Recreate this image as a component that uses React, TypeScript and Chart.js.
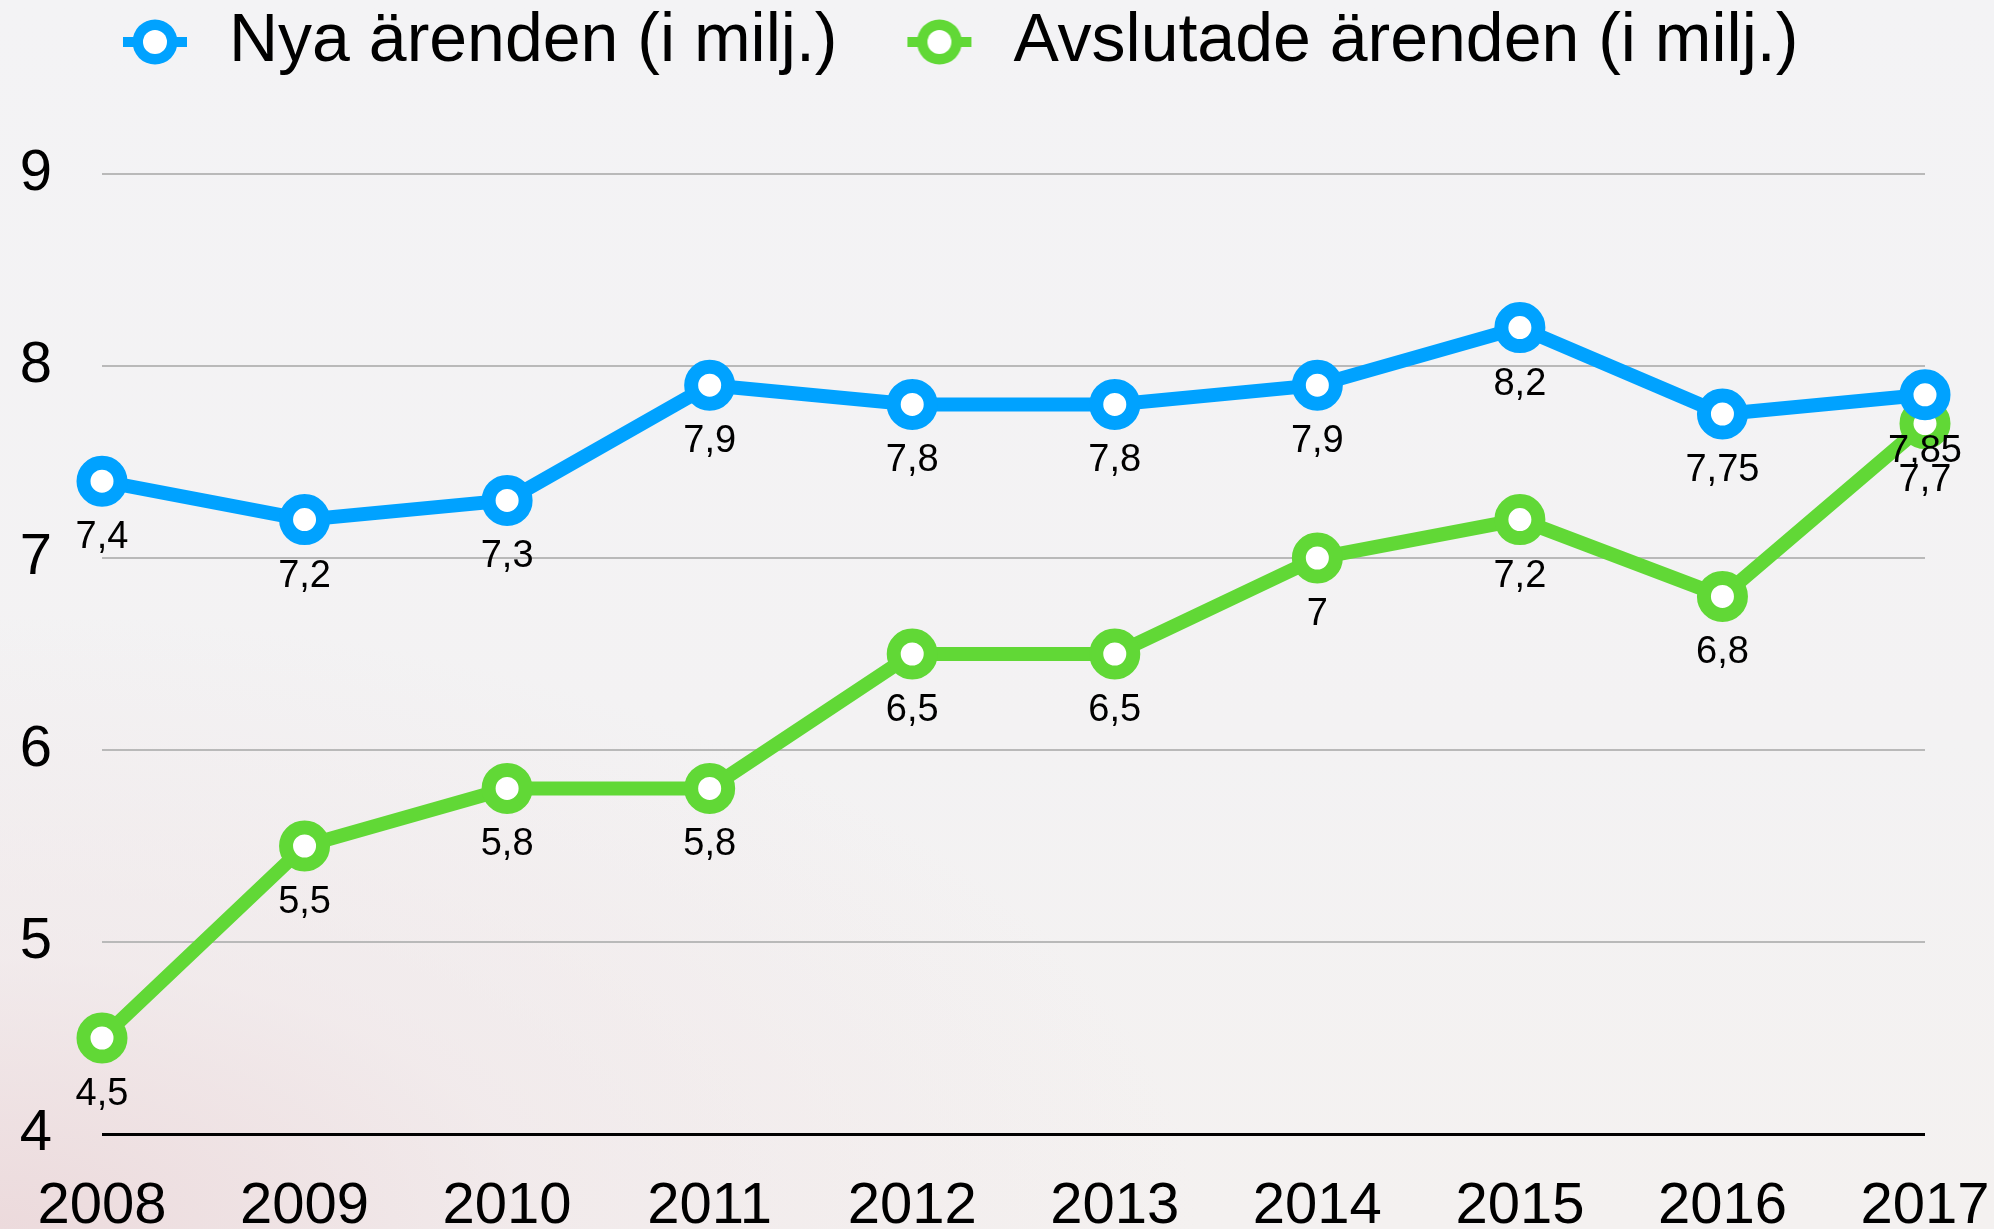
import React, { useEffect, useRef } from 'react';
import { Chart, registerables } from 'chart.js';

Chart.register(...registerables);

const years = ['2008', '2009', '2010', '2011', '2012', '2013', '2014', '2015', '2016', '2017'];
const nyaArenden = [7.4, 7.2, 7.3, 7.9, 7.8, 7.8, 7.9, 8.2, 7.75, 7.85];
const avslutadeArenden = [4.5, 5.5, 5.8, 5.8, 6.5, 6.5, 7.0, 7.2, 6.8, 7.7];
const seriesNames = ['Nya ärenden (i milj.)', 'Avslutade ärenden (i milj.)'];
const seriesColors = ['#00A2FF', '#61D836'];
const yTickValues = [4, 5, 6, 7, 8, 9];

const FONT = '"Liberation Sans", Arial, Helvetica, sans-serif';

function makeMarker(color: string): HTMLCanvasElement {
  const c = document.createElement('canvas');
  c.width = 120;
  c.height = 50;
  const g = c.getContext('2d')!;
  const cx = 87;
  const cy = 25;
  g.fillStyle = color;
  g.fillRect(cx - 32, cy - 5, 64, 10);
  g.beginPath();
  g.arc(cx, cy, 22.5, 0, Math.PI * 2);
  g.fill();
  g.fillStyle = '#ffffff';
  g.beginPath();
  g.arc(cx, cy, 12, 0, Math.PI * 2);
  g.fill();
  return c;
}

const legendLayoutPlugin = {
  id: 'legendLayout',
  beforeLayout(chart: any) {
    const lg = chart.legend;
    if (lg && !lg._patchedFit) {
      const orig = lg.fit;
      lg.fit = function () {
        orig.call(this);
        this.height = 174;
      };
      lg._patchedFit = true;
    }
  },
  afterLayout(chart: any) {
    const lg = chart.legend;
    if (lg) {
      lg.left += 53;
      lg.right += 53;
    }
  },
};

const valueLabelPlugin = {
  id: 'valueLabels',
  afterDatasetsDraw(chart: any) {
    const ctx = chart.ctx;
    ctx.save();
    ctx.font = `38px ${FONT}`;
    ctx.fillStyle = '#000';
    ctx.textAlign = 'center';
    ctx.textBaseline = 'alphabetic';
    for (let d = chart.data.datasets.length - 1; d >= 0; d--) {
      const meta = chart.getDatasetMeta(d);
      const values = chart.data.datasets[d].data as number[];
      meta.data.forEach((pt: any, i: number) => {
        const txt = String(values[i]).replace('.', ',');
        ctx.fillText(txt, pt.x, pt.y + 67);
      });
    }
    ctx.restore();
  },
};

export default function App() {
  const ref = useRef<HTMLCanvasElement | null>(null);

  useEffect(() => {
    if (!ref.current) return;
    const markers = seriesColors.map(makeMarker);
    const mkDataset = (label: string, data: number[], color: string) => ({
      label,
      data,
      borderColor: color,
      backgroundColor: '#ffffff',
      pointBackgroundColor: '#ffffff',
      pointBorderColor: color,
      borderWidth: 14,
      pointRadius: 18.5,
      pointBorderWidth: 14,
      pointHoverRadius: 18.5,
      tension: 0,
      clip: false as any,
    });
    const chart = new Chart(ref.current, {
      type: 'line',
      data: {
        labels: years,
        datasets: [
          mkDataset(seriesNames[0], nyaArenden, seriesColors[0]),
          mkDataset(seriesNames[1], avslutadeArenden, seriesColors[1]),
        ],
      },
      options: {
        animation: false,
        responsive: true,
        maintainAspectRatio: false,
        events: [],
        layout: { padding: { left: 0, right: 69, top: 0, bottom: 0 } },
        plugins: {
          tooltip: { enabled: false },
          legend: {
            display: true,
            position: 'top',
            align: 'start',
            labels: {
              usePointStyle: true,
              pointStyleWidth: 134,
              padding: 8,
              color: '#000',
              font: { size: 68, family: FONT },
              generateLabels: (ch: any) =>
                ch.data.datasets.map((ds: any, i: number) => ({
                  text: ds.label,
                  pointStyle: markers[i],
                  fillStyle: seriesColors[i],
                  strokeStyle: seriesColors[i],
                  lineWidth: 0,
                  hidden: false,
                  datasetIndex: i,
                  fontColor: '#000',
                })),
            },
          },
        },
        scales: {
          x: {
            type: 'category',
            offset: false,
            grid: { display: false, drawTicks: false },
            border: { display: false },
            ticks: {
              color: '#000',
              font: { size: 58, family: FONT },
              padding: 38,
              maxRotation: 0,
              autoSkip: false,
            },
            afterFit: (scale: any) => {
              scale.height = 95;
              scale.paddingLeft = 0;
              scale.paddingRight = 0;
            },
          },
          y: {
            min: yTickValues[0],
            max: yTickValues[yTickValues.length - 1],
            afterBuildTicks: (scale: any) => {
              scale.ticks = yTickValues.map((v) => ({ value: v }));
            },
            grid: {
              drawTicks: false,
              color: (c: any) => (c.tick && c.tick.value === yTickValues[0] ? '#000000' : '#b9b9b9'),
              lineWidth: (c: any) => (c.tick && c.tick.value === yTickValues[0] ? 3 : 2),
            },
            border: { display: false },
            ticks: {
              color: '#000',
              font: { size: 58, family: FONT },
              padding: 50,
              callback: (v: any) => String(v),
            },
            afterFit: (scale: any) => {
              scale.width = 102;
              scale.paddingTop = 0;
              scale.paddingBottom = 0;
            },
          },
        },
      },
      plugins: [legendLayoutPlugin, valueLabelPlugin],
    } as any);
    return () => chart.destroy();
  }, []);

  return (
    <div
      style={{
        position: 'fixed',
        left: 0,
        top: 0,
        width: 1994,
        height: 1229,
        background:
          'radial-gradient(ellipse 60% 50% at 0% 100%, rgba(236,218,220,1) 0%, rgba(240,230,232,0.6) 45%, rgba(243,242,244,0) 100%), linear-gradient(180deg, #f3f3f5 0%, #f3f2f3 60%, #f4f1f0 100%)',
      }}
    >
      <canvas ref={ref} />
    </div>
  );
}
